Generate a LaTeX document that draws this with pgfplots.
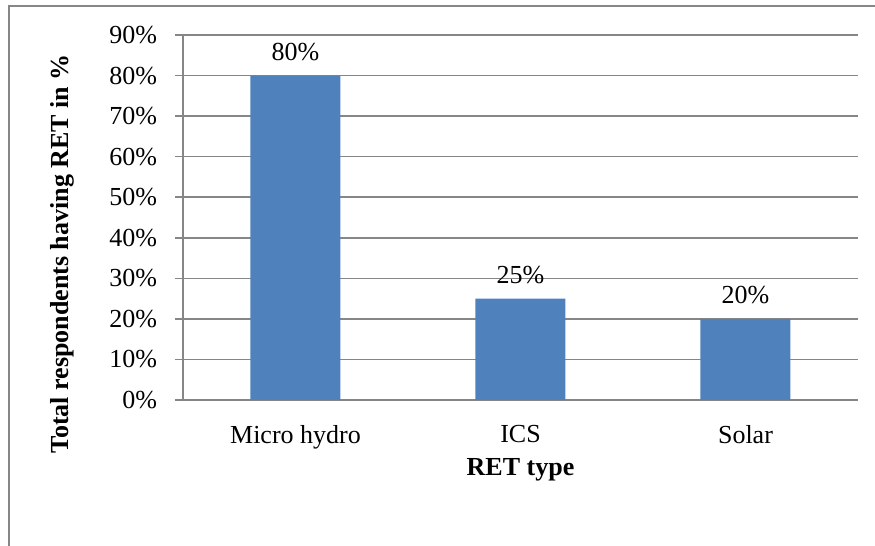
\documentclass[border=0pt]{standalone}
\usepackage{fontspec}
\setmainfont{Liberation Serif}
\usepackage{pgfplots}
\pgfplotsset{compat=1.18}
\definecolor{barblue}{RGB}{79,129,189}
\definecolor{gridgray}{RGB}{134,134,134}
\begin{document}
\fontsize{13}{15}\selectfont
\begin{tikzpicture}[font=\fontsize{13}{15}\selectfont]
\useasboundingbox (-91.5pt,-73pt) rectangle (346pt,200pt);
% outer chart frame
\draw[gridgray, line width=0.8pt] (-87pt,-90pt) -- (-87pt,197pt) -- (360pt,197pt);
\begin{axis}[
  at={(0,0)}, anchor=south west,
  scale only axis,
  width=337.5pt, height=182.5pt,
  xmin=-0.5, xmax=2.5,
  ymin=0, ymax=90,
  ytick={0,10,...,90},
  yticklabel={\pgfmathprintnumber{\tick}\%},
  /pgf/number format/assume math mode=true,
  xtick={0,1,2},
  xticklabels={Micro hydro, ICS, Solar},
  x tick style={draw=none},
  extra x ticks={-0.5,0.5,1.5,2.5},
  extra x tick labels={},
  extra x tick style={major tick length=4pt, tick style={draw=gridgray, line width=0.8pt}, grid=none},
  tick align=outside,
  major tick length=4pt,
  y tick style={draw=gridgray, line width=0.8pt},
  axis x line*=bottom,
  axis y line*=left,
  axis line style={draw=gridgray, line width=0.8pt, -},
  ymajorgrids,
  grid style={draw=gridgray, line width=0.8pt},
  yticklabel style={xshift=-4.5pt},
  xticklabel style={yshift=-4pt},
  xlabel={\textbf{RET type}},
  ylabel={\textbf{Total respondents having RET in \%}},
  xlabel style={at={(axis description cs:0.5,-0.192)}, anchor=center},
  ylabel style={at={(axis description cs:-0.179,0.4)}, anchor=center},
  nodes near coords={\pgfmathprintnumber{\pgfplotspointmeta}\%},
  nodes near coords style={anchor=south, yshift=3pt},
]
\addplot[ybar, bar width=45pt, fill=barblue, draw=none]
  coordinates {(0,80) (1,25) (2,20)};
\end{axis}
\end{tikzpicture}
\end{document}
